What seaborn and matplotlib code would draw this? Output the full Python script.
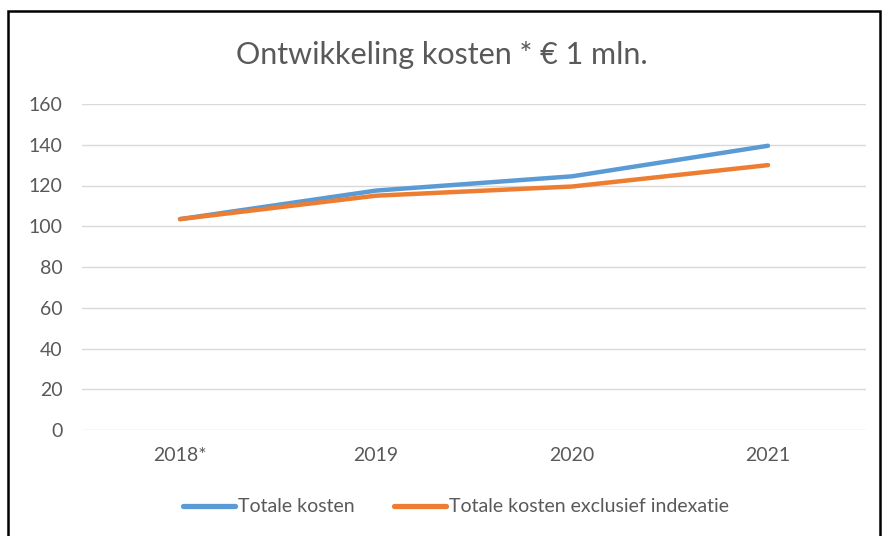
import pandas as pd
import numpy as np
import seaborn as sns
import matplotlib.pyplot as plt
from matplotlib.patches import Rectangle

sns.set_style("white")
plt.rcParams['font.family'] = ['Lato', 'DejaVu Sans']

jaren = ['2018*', '2019', '2020', '2021']
totaal = [103.5, 117.5, 124.5, 139.5]
excl_indexatie = [103.5, 115, 119.5, 130]
series = ['Totale kosten', 'Totale kosten exclusief indexatie']
kleuren = ['#5B9BD5', '#ED7D31']

df = pd.DataFrame({
    'jaar': jaren * 2,
    'kosten': totaal + excl_indexatie,
    'reeks': [series[0]] * 4 + [series[1]] * 4,
})

fig = plt.figure(figsize=(8.83, 5.36), dpi=100)
ax = fig.add_axes([82 / 883, 1 - 430 / 536, 784 / 883, 326 / 536])

sns.lineplot(data=df, x='jaar', y='kosten', hue='reeks', palette=kleuren,
             linewidth=3.2, sort=False, ax=ax, legend=True)

tekst = '#595959'
ax.set_ylim(0, 160)
ax.set_xlim(-0.5, 3.5)
ax.set_yticks(range(0, 161, 20))
ax.grid(axis='y', color='#D9D9D9', linewidth=1)
ax.set_axisbelow(True)
for s in ax.spines.values():
    s.set_visible(False)
ax.tick_params(axis='y', length=0, pad=14, labelsize=14, labelcolor=tekst)
ax.tick_params(axis='x', length=0, pad=12, labelsize=14, labelcolor=tekst)
ax.set_xlabel('')
ax.set_ylabel('')

fig.suptitle('Ontwikkeling kosten * € 1 mln.', y=1 - 55 / 536, va='center',
             fontsize=22, color=tekst)

handles, labels = ax.get_legend_handles_labels()
for h in handles:
    h.set_linewidth(3.8)
ax.legend(handles, labels, loc='center', bbox_to_anchor=(456 / 883, 1 - 507 / 536),
          bbox_transform=fig.transFigure, ncol=2, frameon=False, fontsize=14,
          labelcolor=tekst, handlelength=2.7, handletextpad=0.15, columnspacing=2.0)

fig.patches.append(Rectangle((8 / 883, -0.1), 872 / 883, 1.1 - 11 / 536,
                             transform=fig.transFigure, fill=False,
                             edgecolor='black', linewidth=1.8))

fig.savefig('out.png', dpi=100)
